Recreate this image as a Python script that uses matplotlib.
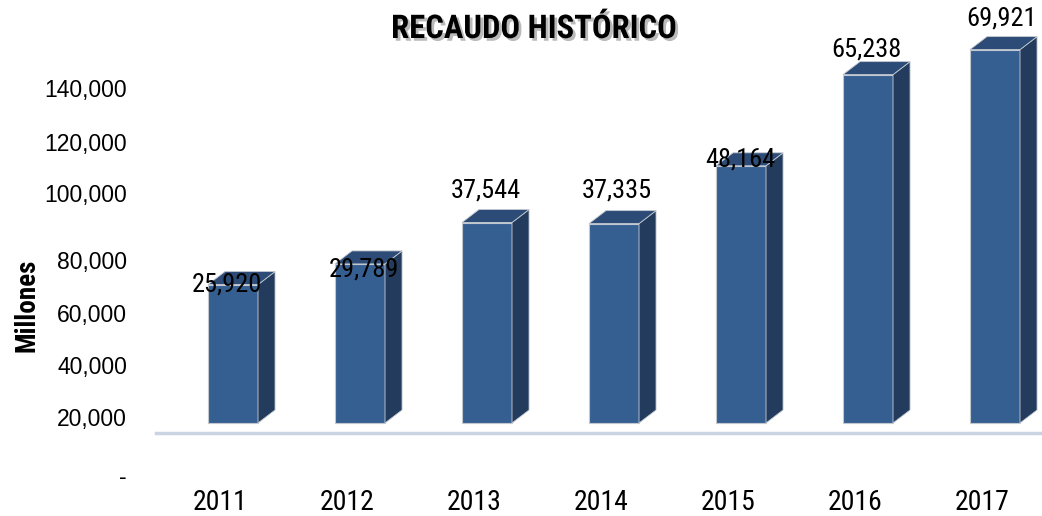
import matplotlib
matplotlib.use("Agg")
from matplotlib import pyplot as plt
from matplotlib.patches import Polygon
import matplotlib.patheffects as pe

years = ["2011", "2012", "2013", "2014", "2015", "2016", "2017"]
recaudo = [25920, 29789, 37544, 37335, 48164, 65238, 69921]
value_labels = ["25,920", "29,789", "37,544", "37,335", "48,164", "65,238", "69,921"]
ytick_labels = ["-", "20,000", "40,000", "60,000", "80,000", "100,000", "120,000", "140,000"]

# layout (where the labels sit, in the picture's own odd 3d placement)
ytick_pos = [-9738, 1124, 10861, 20599, 30524, 43071, 52622, 62734]
label_off = [(-6, 0), (4, -6), (-1, 32), (3, 33), (-1, 6), (-2, 25), (6, 31)]

narrow = ["Roboto Condensed", "Liberation Sans", "DejaVu Sans"]
regular = ["Liberation Sans", "DejaVu Sans"]

front_c = "#365f91"
top_c = "#2c4b76"
side_c = "#233b5c"
edge_c = "#c2c8d0"

W, H = 1042, 516
fig = plt.figure(figsize=(W / 100, H / 100), dpi=100)
ax = fig.add_axes([140 / W, 0, (W - 140) / W, 1])

bw = 0.394
dx = 0.134
dy = 2434

x = list(range(len(years)))
ax.bar(x, recaudo, width=bw, color=front_c, edgecolor=edge_c, linewidth=0.8, zorder=3)
for i, v in zip(x, recaudo):
    x0, x1 = i - bw / 2, i + bw / 2
    top = Polygon([(x0, v), (x0 + dx, v + dy), (x1 + dx, v + dy), (x1, v)],
                  closed=True, facecolor=top_c, edgecolor=edge_c, linewidth=0.6, zorder=3)
    side = Polygon([(x1, 0), (x1 + dx, dy), (x1 + dx, v + dy), (x1, v)],
                   closed=True, facecolor=side_c, edgecolor=edge_c, linewidth=0.6, zorder=3)
    ax.add_patch(side)
    ax.add_patch(top)

for i, v, lab, off in zip(x, recaudo, value_labels, label_off):
    ax.annotate(lab, xy=(i, v), xytext=off, textcoords="offset pixels",
                ha="center", va="center", fontsize=19, family=narrow, zorder=5)

for i, yr in zip(x, years):
    ax.annotate(yr, xy=(i, 0), xycoords=("data", "axes fraction"), xytext=(-13, 13),
                textcoords="offset pixels", ha="center", va="center",
                fontsize=20, family=narrow)

# floor of the 3d plot
ax.axhline(-1873, xmin=16 / (W - 140), xmax=1, color="#c9d3e1", linewidth=2.5, zorder=2)

ax.set_xlim((140 - 233) / 127, (W - 233) / 127)
ax.set_ylim(-17416, 79213)
ax.set_xticks([])
ax.set_yticks(ytick_pos)
ax.set_yticklabels(ytick_labels, fontsize=16.5, family=regular)
ax.tick_params(axis="y", length=0, pad=9.4)
for s in ax.spines.values():
    s.set_visible(False)

fig.text(534 / W, 1 - 29 / H, "RECAUDO HISTÓRICO", ha="center", va="center",
         fontsize=23.5, fontweight="bold", family=narrow,
         path_effects=[pe.withSimplePatchShadow(offset=(2, -2), shadow_rgbFace="#666666", alpha=0.45)])
fig.text(27 / W, 1 - 305 / H, "Millones", rotation=90, ha="center", va="center",
         fontsize=19.5, fontweight="bold", family=narrow)

fig.savefig("out.png", dpi=100)
